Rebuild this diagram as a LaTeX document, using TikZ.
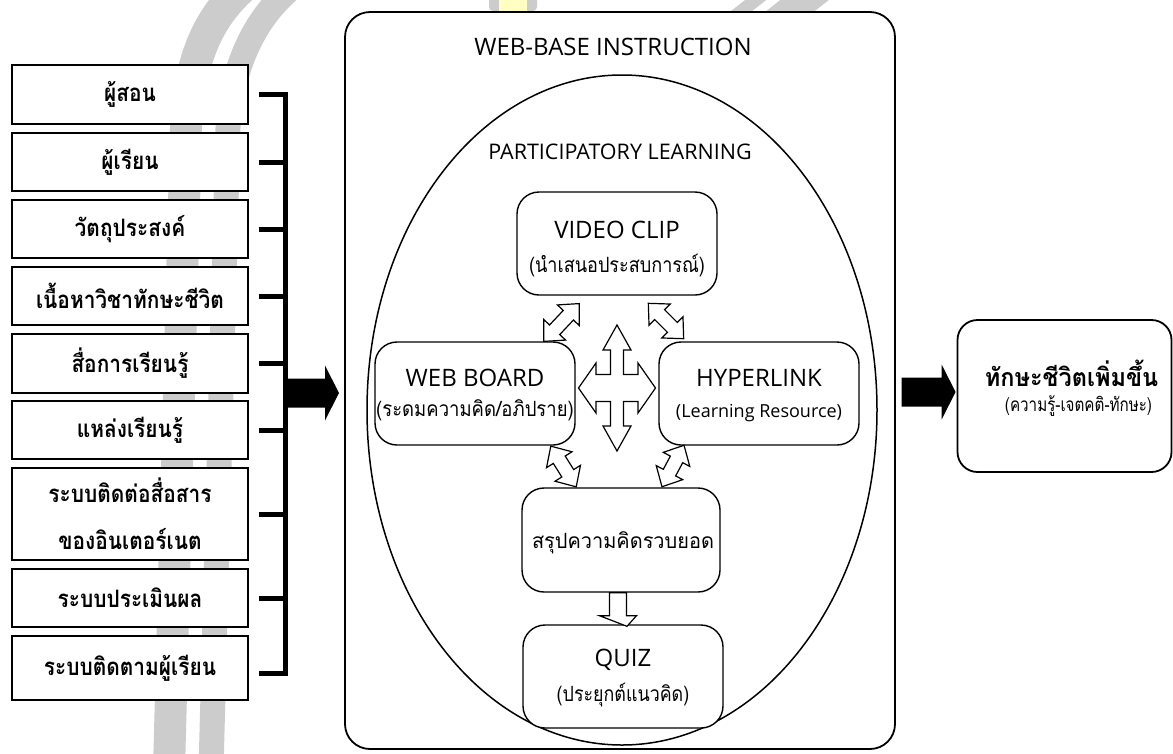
\documentclass[tikz,border=0pt]{standalone}
\usepackage{graphicx}
\usepackage{fontspec}
\setmainfont{Open Sans}
\newfontfamily\thai[Script=Thai]{Loma}
\usetikzlibrary{calc,shapes.geometric}
\definecolor{markgray}{HTML}{CCCCCC}
\definecolor{markyellow}{HTML}{FFFFC4}
% narrow the Thai lettering a little
\newcommand\narrow[2]{\scalebox{#1}[1]{#2}}

\tikzset{
  leftbox/.style={draw, line width=1.3pt, fill=white, minimum width=236pt, inner sep=0pt,
    align=center, font=\thai\bfseries\fontsize{24}{28}\selectfont},
  inbox/.style={draw, line width=1.4pt, rounded corners=22pt, fill=white,
    minimum width=200pt, minimum height=103pt, inner sep=0pt},
  ttl/.style={inner sep=0pt, font=\fontsize{24}{28}\selectfont},
  thsub/.style={inner sep=0pt, font=\thai\fontsize{21}{25}\selectfont},
  spine/.style={line width=5pt, line join=miter},
  hollow/.style={draw, line width=1.2pt, fill=white, line join=miter},
  pics/bigarrow/.style={code={
    \fill (0,-14.5) -- (40,-14.5) -- (40,-27.5) -- (54,0) -- (40,27.5) -- (40,14.5) -- (0,14.5) -- cycle;
  }},
  pics/hollowdbl/.style={code={
    \pgfmathsetmacro\hl{#1/2}
    \path[hollow] (-\hl,0) -- (-\hl+16,15) -- (-\hl+16,7) -- (\hl-16,7) -- (\hl-16,15)
      -- (\hl,0) -- (\hl-16,-15) -- (\hl-16,-7) -- (-\hl+16,-7) -- (-\hl+16,-15) -- cycle;
  }}
}

\begin{document}
\begin{tikzpicture}[x=1pt,y=-1pt]
\useasboundingbox (0,0) rectangle (1173,753);
\fill[white] (0,0) rectangle (1173,753);

% faint emblem in the background
\draw[markgray, line width=32pt] (169,770) -- (186,128) .. controls (189,70) and (202,22) .. (245,-15);
\draw[markgray, line width=25pt] (211,770) -- (228,128) .. controls (231,75) and (250,20) .. (295,-15);
\draw[markgray, line width=30pt] (830,-20) -- (760,35);
\draw[markgray, line width=13pt] (775,-15) -- (730,20);
\fill[markgray, rounded corners=4pt] (489,-10) rectangle (537,11);
\fill[markyellow] (499,-10) rectangle (527,11);

% input factors
\node[leftbox, minimum height=59pt] (l1) at (130,94.5) {\narrow{0.87}{ผู้สอน}};
\node[leftbox, minimum height=58pt] (l2) at (130,162) {\narrow{0.87}{ผู้เรียน}};
\node[leftbox, minimum height=58pt] (l3) at (130,229) {\narrow{0.87}{วัตถุประสงค์}};
\node[leftbox, minimum height=58pt] (l4) at (130,296) {\narrow{0.87}{เนื้อหาวิชาทักษะชีวิต}};
\node[leftbox, minimum height=59pt] (l5) at (130,363.5) {\narrow{0.87}{สื่อการเรียนรู้}};
\node[leftbox, minimum height=58pt] (l6) at (130,430) {\narrow{0.87}{แหล่งเรียนรู้}};
\node[leftbox, minimum height=92pt] (l7) at (130,514) {\narrow{0.87}{ระบบติดต่อสื่อสาร}\\[19pt]\narrow{0.87}{ของอินเตอร์เนต}};
\node[leftbox, minimum height=58pt] (l8) at (130,598) {\narrow{0.87}{ระบบประเมินผล}};
\node[leftbox, minimum height=64pt] (l9) at (130,668) {\narrow{0.87}{ระบบติดตามผู้เรียน}};

% bracket collecting the factors
\coordinate (hub) at (285,393);
\draw[spine] ([xshift=10pt]l1.east) -| (hub) |- ([xshift=10pt,yshift=-5pt]l9.east);
\foreach \n in {l2,l3,l4,l5,l6,l7,l8}
  \draw[spine] ([xshift=10pt]\n.east) -- ++(27.5,0);
\pic at (hub) {bigarrow};

% web-based instruction frame
\node[draw, line width=1.8pt, rounded corners=25pt, fill=white,
      minimum width=550pt, minimum height=737pt, inner sep=0pt] (web) at (620,380.5) {};
\node[ttl] (webt) at (613,47) {WEB-BASE INSTRUCTION};
\node[ellipse, draw, line width=1.5pt, minimum width=510pt, minimum height=670pt, inner sep=0pt] (pl) at (622,410) {};
\node[inner sep=0pt, font=\fontsize{21.5}{26}\selectfont] (plt) at (620,152) {PARTICIPATORY LEARNING};

% learning activities
\node[inbox] (vid) at (617,243.5) {};
\node[ttl] at ([yshift=13.5pt]vid.center) {VIDEO CLIP};
\node[thsub] at ([yshift=-21.5pt]vid.center) {\narrow{0.86}{(นำเสนอประสบการณ์)}};

\node[inbox] (wb) at (475,393.5) {};
\node[ttl] at ([yshift=15.5pt]wb.center) {WEB BOARD};
\node[thsub] at ([yshift=-16.5pt]wb.center) {\narrow{0.88}{(ระดมความคิด/อภิปราย)}};

\node[inbox] (hl) at (759,393.5) {};
\node[ttl] at ([yshift=15.5pt]hl.center) {HYPERLINK};
\node[inner sep=0pt, font=\fontsize{18}{22}\selectfont] at ([yshift=-19.5pt]hl.center) {(Learning Resource)};

\node[inbox, minimum width=198pt, minimum height=104pt] (sum) at (621,540) {};
\node[thsub] at ([xshift=2pt,yshift=-3pt]sum.center) {\narrow{0.95}{สรุปความคิดรวบยอด}};

\node[inbox] (quiz) at (623,676.5) {};
\node[ttl] at ([yshift=16.5pt]quiz.center) {QUIZ};
\node[thsub] at ([yshift=-18.5pt]quiz.center) {\narrow{0.85}{(ประยุกต์แนวคิด)}};

% exchanges between the activities
\coordinate (vw) at (561.5,322.5);
\coordinate (vh) at (666,321);
\coordinate (ws) at (563.5,466.5);
\coordinate (hs) at (673,466);
\pic[rotate=46.7] at (vw) {hollowdbl=52};
\pic[rotate=-45] at (vh) {hollowdbl=50};
\pic[rotate=-58] at (ws) {hollowdbl=48};
\pic[rotate=62] at (hs) {hollowdbl=47};

\coordinate (mid) at (617,388);
\path[hollow, shift={(mid)}]
  (0,-63) -- (14,-38) -- (6.5,-38) -- (6.5,-13.5) -- (21,-13.5) -- (21,-25) -- (38.5,0)
  -- (21,25) -- (21,13.5) -- (6.5,13.5) -- (6.5,38) -- (14,38) -- (0,63) -- (-14,38)
  -- (-6.5,38) -- (-6.5,13.5) -- (-21,13.5) -- (-21,25) -- (-38.5,0) -- (-21,-25)
  -- (-21,-13.5) -- (-6.5,-13.5) -- (-6.5,-38) -- (-14,-38) -- cycle;

% summary leads to the quiz
\path[hollow] ($(sum.south)+(-3,0)$) coordinate (dtop)
  (dtop) ++(-8.5,0) -- ++(0,23) -- ++(-10,0) -- ($(quiz.north)+(4,2)$) -- ($(dtop)+(18.5,23)$)
  -- ++(-10,0) -- ++(0,-23) -- cycle;

% outcome
\node[draw, line width=1.8pt, rounded corners=20pt, fill=white,
      minimum width=214pt, minimum height=152pt, inner sep=0pt] (out) at (1064.5,396) {};
\node[inner sep=0pt, font=\thai\bfseries\fontsize{25}{29}\selectfont] at ([xshift=7pt,yshift=23pt]out.center) {\narrow{0.94}{ทักษะชีวิตเพิ่มขึ้น}};
\node[inner sep=0pt, font=\thai\fontsize{19}{23}\selectfont] at ([xshift=14pt,yshift=-10pt]out.center) {\narrow{0.8}{(ความรู้-เจตคติ-ทักษะ)}};
\coordinate (outin) at ([xshift=-55pt,yshift=4pt]out.west);
\pic at (outin) {bigarrow};
\end{tikzpicture}
\end{document}
